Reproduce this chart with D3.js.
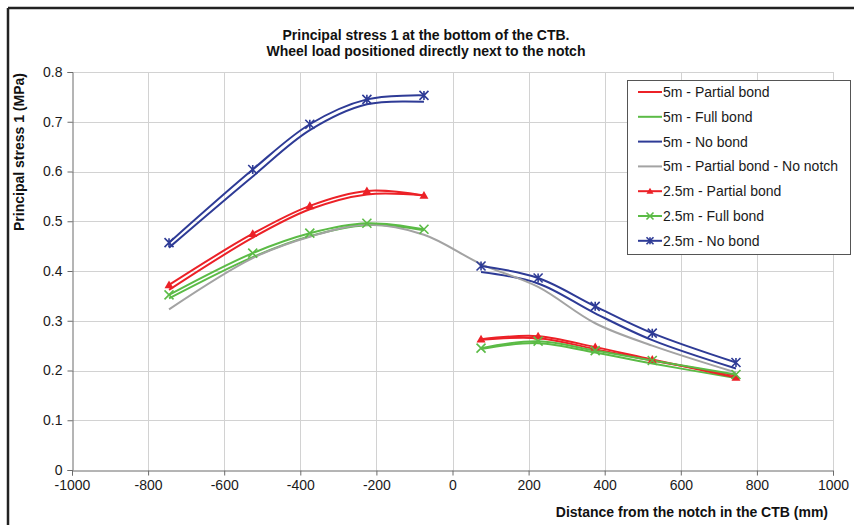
<!DOCTYPE html>
<html>
<head>
<meta charset="utf-8">
<script src="https://cdn.jsdelivr.net/npm/d3@7"></script>
<style>
  html, body { margin: 0; padding: 0; background: #fff; }
  svg { display: block; font-family: "Liberation Sans", Arial, sans-serif; }
</style>
</head>
<body>
<svg id="chart" width="854" height="525"></svg>
<script>
// Measurement positions along the CTB (mm from the notch)
const positions = [-745, -525, -375, -225, -75, 75, 225, 375, 525, 745];

// Principal stress 1 (MPa) per configuration
const partial5 = [0.362, 0.467, 0.524, 0.554, 0.552, 0.262, 0.265, 0.243, 0.220, 0.190];
const full5 = [0.345, 0.428, 0.470, 0.492, 0.482, 0.243, 0.255, 0.236, 0.214, 0.185];
const noBond5 = [0.447, 0.590, 0.683, 0.735, 0.740, 0.398, 0.375, 0.315, 0.261, 0.204];
const noNotch5 = [0.323, 0.426, 0.469, 0.493, 0.473, 0.414, 0.368, 0.295, 0.250, 0.196];
const partial25 = [0.372, 0.475, 0.531, 0.561, 0.552, 0.263, 0.269, 0.247, 0.222, 0.186];
const full25 = [0.352, 0.436, 0.476, 0.496, 0.484, 0.245, 0.259, 0.240, 0.220, 0.192];
const noBond25 = [0.457, 0.604, 0.695, 0.745, 0.753, 0.410, 0.386, 0.329, 0.275, 0.216];

const seriesNames = [
  "5m - Partial bond", "5m - Full bond", "5m - No bond", "5m - Partial bond - No notch",
  "2.5m - Partial bond", "2.5m - Full bond", "2.5m - No bond"
];

const xTicks = [-1000, -800, -600, -400, -200, 0, 200, 400, 600, 800, 1000];
const yTicks = [0, 0.1, 0.2, 0.3, 0.4, 0.5, 0.6, 0.7, 0.8];

const titleLines = ["Principal stress 1 at the bottom of the CTB.", "Wheel load positioned directly  next to the notch"];
const xTitle = "Distance from the notch in the CTB (mm)";
const yTitle = "Principal stress 1 (MPa)";

const RED = "#ec2127", GREEN = "#5bbb46", BLUE = "#2e3b96", GREY = "#a3a3a3";

const series = [
  { name: seriesNames[0], values: partial5, color: RED, marker: null, split: true },
  { name: seriesNames[1], values: full5, color: GREEN, marker: null, split: true },
  { name: seriesNames[2], values: noBond5, color: BLUE, marker: null, split: true },
  { name: seriesNames[3], values: noNotch5, color: GREY, marker: null, split: false },
  { name: seriesNames[4], values: partial25, color: RED, marker: "triangle", split: true },
  { name: seriesNames[5], values: full25, color: GREEN, marker: "x", split: true },
  { name: seriesNames[6], values: noBond25, color: BLUE, marker: "star", split: true }
];

const svg = d3.select("#chart");

// outer frame (top and left edges)
svg.append("line").attr("x1", 8).attr("x2", 854).attr("y1", 8).attr("y2", 8)
  .attr("stroke", "#222").attr("stroke-width", 2.5);
svg.append("line").attr("x1", 8).attr("x2", 8).attr("y1", 8).attr("y2", 525)
  .attr("stroke", "#222").attr("stroke-width", 2.5);

const plot = { left: 72, right: 833, top: 72, bottom: 470 };

const x = d3.scaleLinear().domain([-1000, 1000]).range([plot.left, plot.right]);
const y = d3.scaleLinear().domain([0, 0.8]).range([plot.bottom, plot.top]);

// gridlines
const grid = svg.append("g").attr("stroke", "#d2d2d2").attr("stroke-width", 1);
grid.selectAll(".gv").data(xTicks.filter(t => t > -1000)).join("line")
  .attr("x1", d => Math.round(x(d)) + 0.5).attr("x2", d => Math.round(x(d)) + 0.5)
  .attr("y1", plot.top).attr("y2", plot.bottom);
grid.selectAll(".gh").data(yTicks.filter(t => t > 0)).join("line")
  .attr("x1", plot.left).attr("x2", plot.right)
  .attr("y1", d => Math.round(y(d)) + 0.5).attr("y2", d => Math.round(y(d)) + 0.5);

// axes
const xAxis = d3.axisBottom(x).tickValues(xTicks).tickSize(5).tickPadding(3)
  .tickFormat(d => String(d));
const gx = svg.append("g").attr("transform", `translate(0,${plot.bottom + 0.5})`).call(xAxis);
const yAxis = d3.axisLeft(y).tickValues(yTicks).tickSize(5).tickPadding(5)
  .tickFormat(d => d === 0 ? "0" : d3.format(".1f")(d));
const gy = svg.append("g").attr("transform", `translate(${plot.left + 0.5},0)`).call(yAxis);
[gx, gy].forEach(g => {
  g.select(".domain").attr("stroke", "#6b6b6b");
  g.selectAll(".tick line").attr("stroke", "#6b6b6b");
  g.selectAll(".tick text").attr("fill", "#1a1a1a").attr("font-size", 14)
    .attr("font-family", "'Liberation Sans', Arial, sans-serif");
});
gx.selectAll(".tick text").attr("dy", "0.8em");

// titles
svg.append("text").attr("x", 426).attr("y", 40).attr("text-anchor", "middle")
  .attr("font-weight", "bold").attr("font-size", 14).attr("fill", "#111").text(titleLines[0]);
svg.append("text").attr("x", 426).attr("y", 56).attr("text-anchor", "middle")
  .attr("font-weight", "bold").attr("font-size", 14).attr("fill", "#111").text(titleLines[1]);
svg.append("text").attr("x", 828).attr("y", 517).attr("text-anchor", "end")
  .attr("font-weight", "bold").attr("font-size", 14).attr("fill", "#111").text(xTitle);
svg.append("text").attr("transform", "translate(24,152) rotate(-90)").attr("text-anchor", "middle")
  .attr("font-weight", "bold").attr("font-size", 14).attr("fill", "#111").text(yTitle);

// curves
const line = d3.line().x(d => x(d[0])).y(d => y(d[1])).curve(d3.curveCatmullRom.alpha(0.5));
const curves = svg.append("g").attr("fill", "none").attr("stroke-width", 2);

function segments(s) {
  const pts = positions.map((p, i) => [p, s.values[i]]);
  return s.split ? [pts.filter(d => d[0] < 0), pts.filter(d => d[0] > 0)] : [pts];
}

function drawMarker(g, type, cx, cy, color, size) {
  if (type === "triangle") {
    const r = size;
    g.append("path").attr("d", `M${cx},${cy - r}L${cx + r},${cy + r * 0.75}L${cx - r},${cy + r * 0.75}Z`)
      .attr("fill", color).attr("stroke", "none");
  } else if (type === "x" || type === "star") {
    const r = size;
    let d = `M${cx - r},${cy - r}L${cx + r},${cy + r}M${cx - r},${cy + r}L${cx + r},${cy - r}`;
    if (type === "star") d += `M${cx},${cy - r}L${cx},${cy + r}`;
    g.append("path").attr("d", d).attr("stroke", color).attr("stroke-width", 1.6).attr("fill", "none");
  }
}

// draw the 5 m series first, then the 2.5 m series with markers on top
series.forEach(s => {
  segments(s).forEach(seg => {
    curves.append("path").attr("d", line(seg)).attr("stroke", s.color);
  });
});
const markers = svg.append("g");
series.filter(s => s.marker).forEach(s => {
  positions.forEach((p, i) => drawMarker(markers, s.marker, x(p), y(s.values[i]), s.color, 4.5));
});

// legend
const lg = svg.append("g");
lg.append("rect").attr("x", 627.5).attr("y", 80.5).attr("width", 223).attr("height", 174)
  .attr("fill", "#fff").attr("stroke", "#555").attr("stroke-width", 1);
series.forEach((s, i) => {
  const cy = 92 + i * 24.8;
  lg.append("line").attr("x1", 638).attr("x2", 662).attr("y1", cy).attr("y2", cy)
    .attr("stroke", s.color).attr("stroke-width", 2);
  if (s.marker) drawMarker(lg, s.marker, 650, cy, s.color, 3.5);
  lg.append("text").attr("x", 663).attr("y", cy).attr("dy", "0.36em")
    .attr("font-size", 14).attr("fill", "#1a1a1a").text(s.name);
});
</script>
</body>
</html>
